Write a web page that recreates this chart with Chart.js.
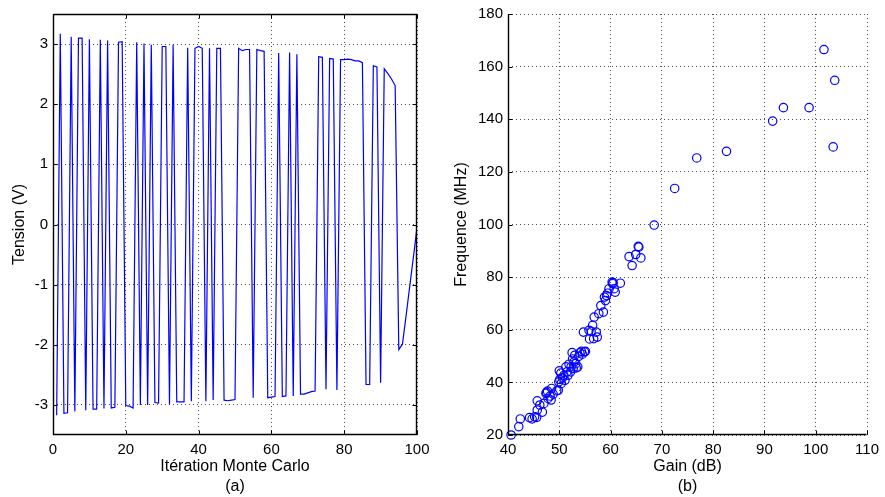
<!DOCTYPE html>
<html><head><meta charset="utf-8">
<script src="https://cdn.jsdelivr.net/npm/chart.js@4/dist/chart.umd.min.js"></script>
<style>
html,body{margin:0;padding:0;background:#fff;}
#wrap{position:relative;width:885px;height:497px;overflow:hidden;background:#fff;}
canvas{position:absolute;top:0;}
#c1{left:0;} #c2{left:442px;}
</style></head><body>
<div id="wrap"><canvas id="c1" width="442" height="497"></canvas><canvas id="c2" width="443" height="497"></canvas></div>
<script>
// ---- Data ----
const tensionV = [
 -3.17, 3.17,-3.14,-3.13, 3.12,-3.11, 3.10, 3.10,-3.09, 3.08,
 -3.07,-3.07, 3.07,-3.06, 3.06,-3.05,-3.04, 3.03, 3.04,-3.01,
 -3.02,-3.05, 3.03,-3.00, 3.01,-3.00, 2.99,-2.96,-2.97, 2.96,
  2.96,-2.99, 2.99,-2.95,-2.95,-2.95, 2.94,-2.94, 2.93, 2.96,
  2.93,-2.94, 2.93,-2.92, 2.93, 2.93,-2.92,-2.93,-2.92,-2.91,
  2.93, 2.89, 2.91, 2.91,-2.88, 2.91, 2.89, 2.88,-2.88,-2.87,
 -2.86, 2.85,-2.86,-2.85, 2.86,-2.85, 2.83,-2.82,-2.82,-2.80,
 -2.78,-2.77, 2.79, 2.78,-2.74, 2.76, 2.75,-2.75, 2.74, 2.74,
  2.75, 2.74, 2.72, 2.72, 2.69,-2.66,-2.66, 2.64, 2.62,-2.63,
  2.59, 2.51, 2.42, 2.31,-2.08,-1.99,-1.52,-1.03,-0.55,-0.05
];
const gainDb = [40.6,42.1,42.4,44.2,44.7,45.2,45.6,45.7,45.7,46.2,46.7,47.0,47.4,47.7,47.8,48.2,48.4,48.5,48.8,49.5,
 49.8,49.9,50.1,50.0,50.4,50.6,50.9,51.1,51.3,51.5,51.7,51.9,52.2,52.3,52.5,52.7,52.9,53.0,53.2,53.3,
 53.6,53.8,54.0,54.3,54.5,54.9,55.1,54.7,55.8,55.9,56.2,56.5,56.7,56.8,57.2,57.4,57.7,58.1,58.6,58.8,
 59.0,59.2,59.4,59.7,60.3,60.4,60.7,60.9,61.9,63.6,64.2,64.9,65.4,65.5,65.9,68.5,72.5,76.8,82.6,91.6,
 93.7,98.7,101.6,103.7,103.4,60.5,47.5,50.3,52.6];
const freqMHz = [20.0,23.2,26.1,26.6,26.1,26.9,26.7,29.5,33.0,31.4,28.7,32.0,35.8,36.7,33.9,34.8,33.3,37.7,35.5,36.8,
 37.0,40.2,41.1,44.4,39.6,41.7,42.7,40.8,45.9,44.0,42.7,46.9,44.0,45.9,51.3,45.3,47.8,50.3,47.1,45.5,
 45.9,49.9,51.2,51.8,50.7,51.6,51.8,59.1,59.8,56.5,59.4,61.7,56.6,64.8,59.1,57.2,66.1,69.2,66.7,72.4,
 71.1,73.0,73.9,75.6,78.1,77.5,75.6,74.3,77.7,87.8,84.4,88.6,91.7,91.4,87.3,99.8,113.7,125.3,127.8,139.3,
 144.4,144.4,166.5,154.8,129.5,77.9,36.2,43.5,48.9];
const leftXTicks = [0,20,40,60,80,100];
const leftYTicks = [-3,-2,-1,0,1,2,3];
const rightXTicks = [40,50,60,70,80,90,100,110];
const rightYTicks = [20,40,60,80,100,120,140,160,180];

// ---- Styling ----
const FONT = "'Liberation Sans', Arial, Helvetica, sans-serif";
const GRID = 'rgba(0,0,0,0.7)';
const BLUE = '#0000ff';

function framePlugin(fullBox){
  return {
    id:'frame',
    afterDraw(chart){
      const {ctx, chartArea:a, scales:{x, y}} = chart;
      ctx.save();
      ctx.strokeStyle = '#000';
      ctx.lineWidth = 1;
      const L = Math.round(a.left)+0.5, R = Math.round(a.right)-0.5;
      const T = Math.round(a.top)+0.5, B = Math.round(a.bottom)-0.5;
      ctx.beginPath();
      x.ticks.forEach(t => {
        const px = Math.round(x.getPixelForValue(t.value))+0.5;
        ctx.moveTo(px, B); ctx.lineTo(px, B-4);
        if (fullBox){ ctx.moveTo(px, T); ctx.lineTo(px, T+4); }
      });
      y.ticks.forEach(t => {
        const py = Math.round(y.getPixelForValue(t.value))+0.5;
        ctx.moveTo(L, py); ctx.lineTo(L+4, py);
        if (fullBox){ ctx.moveTo(R, py); ctx.lineTo(R-4, py); }
      });
      ctx.stroke();
      ctx.lineWidth = 1.4;
      ctx.beginPath();
      ctx.moveTo(L, T); ctx.lineTo(L, B); ctx.lineTo(R, B);
      if (fullBox){ ctx.lineTo(R, T); ctx.lineTo(L, T); }
      ctx.stroke();
      ctx.restore();
    }
  };
}

function axis(min, max, tickVals, fit, isX, titleText, titlePad){
  return {
    type:'linear', min, max,
    afterBuildTicks: s => { s.ticks = tickVals.map(v => ({value:v})); },
    afterFit: s => { if (isX) s.height = fit; else s.width = fit; },
    grid:{ color:GRID, lineWidth:1, drawTicks:false },
    border:{ display:false, dash:[1,3] },
    ticks:{ padding: isX ? 6 : 5, color:'#000', font:{family:FONT, size:15}, maxRotation:0, autoSkip:false },
    title:{ display:true, text:titleText, color:'#000', font:{family:FONT, size:16, lineHeight:1.25}, padding:titlePad }
  };
}

const common = {
  responsive:false, animation:false, devicePixelRatio:1,
  plugins:{ legend:{display:false}, tooltip:{enabled:false} }
};

new Chart(document.getElementById('c1'), {
  type:'line',
  data:{ datasets:[{
    data: tensionV.map((v,i) => ({x:i+1, y:v})),
    borderColor:BLUE, borderWidth:1.2, pointRadius:0, tension:0, fill:false
  }]},
  options:Object.assign({}, common, {
    layout:{ padding:{top:12, right:25, bottom:0, left:0} },
    scales:{
      x: axis(0, 100, leftXTicks, 62, true, ['Itération Monte Carlo','(a)'], {top:0, bottom:0}),
      y: axis(-3.5, 3.5, leftYTicks, 53, false, 'Tension (V)', {top:10, bottom:0})
    }
  }),
  plugins:[framePlugin(true)]
});

new Chart(document.getElementById('c2'), {
  type:'scatter',
  data:{ datasets:[{
    data: gainDb.map((g,i) => ({x:g, y:freqMHz[i]})),
    borderColor:BLUE, backgroundColor:'rgba(0,0,0,0)', borderWidth:1.2,
    pointStyle:'circle', pointRadius:4.2, clip:6
  }]},
  options:Object.assign({}, common, {
    layout:{ padding:{top:12, right:14, bottom:0, left:0} },
    scales:{
      x: axis(40, 110, rightXTicks, 62, true, ['Gain (dB)','(b)'], {top:0, bottom:0}),
      y: axis(20, 180, rightYTicks, 66, false, 'Frequence (MHz)', {top:10, bottom:0})
    }
  }),
  plugins:[framePlugin(false)]
});
</script>
</body></html>
